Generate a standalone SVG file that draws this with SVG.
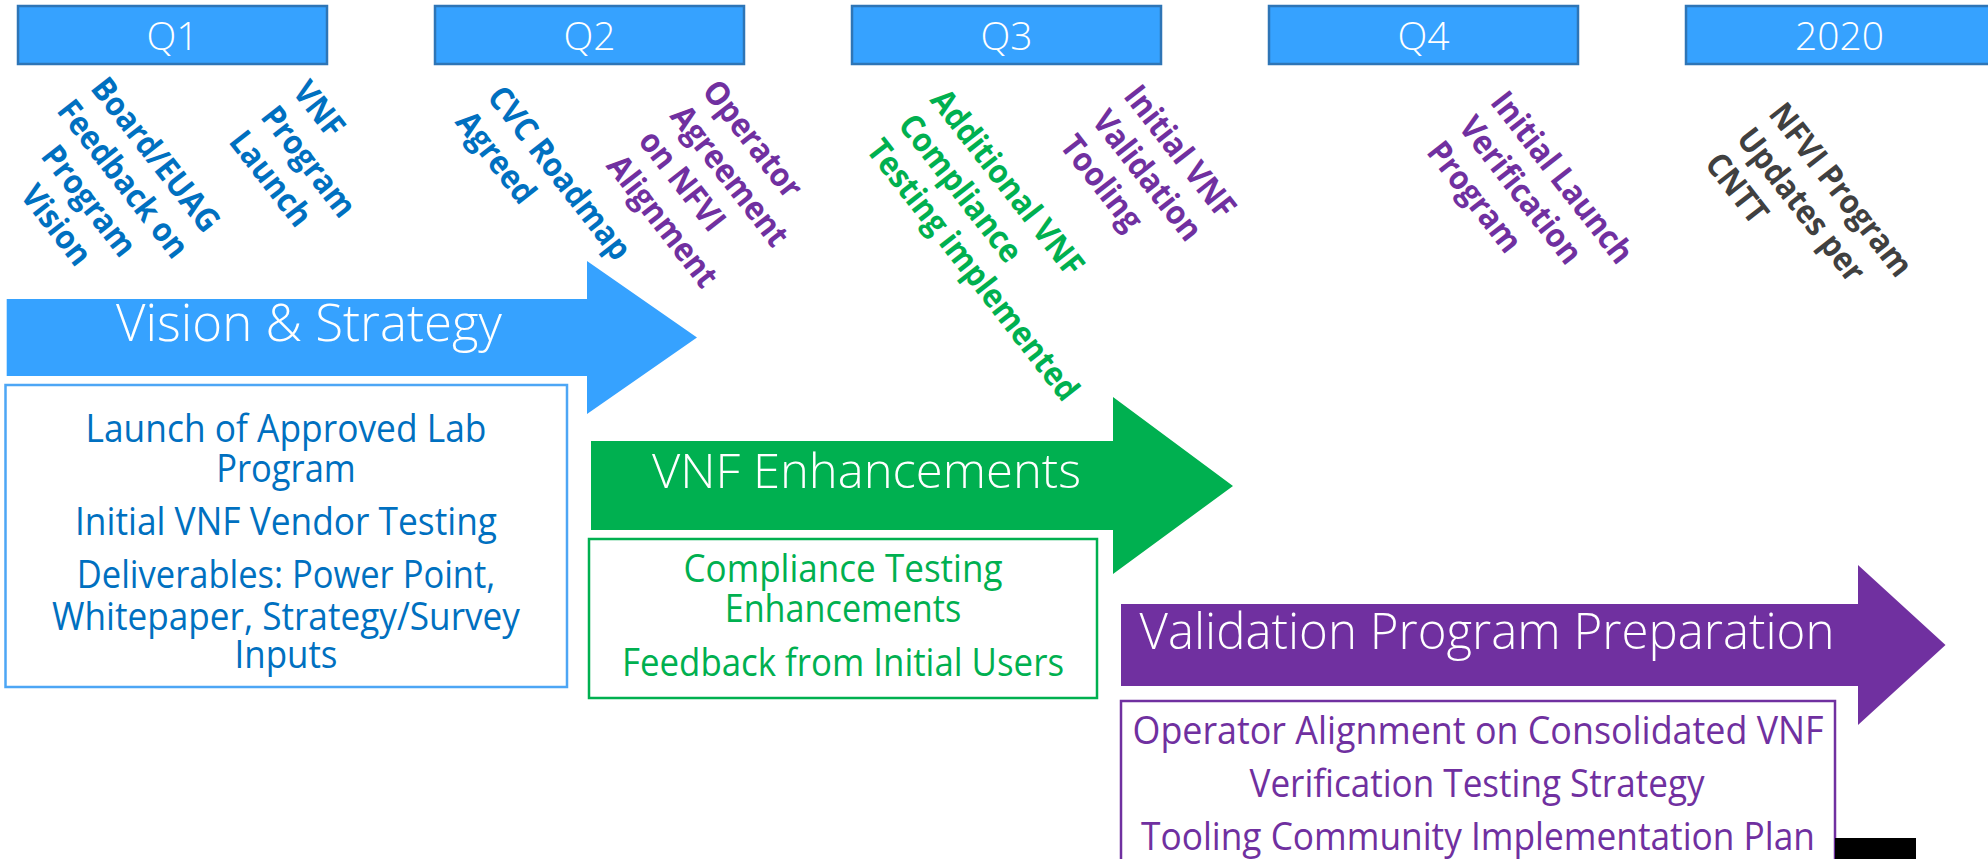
<svg xmlns="http://www.w3.org/2000/svg" width="1988" height="859" viewBox="0 0 1988 859">
<style>
.q{fill:#36A2FF;stroke:#2E75B6;stroke-width:2.5}
.qt{font-family:"Open Sans","Noto Sans",sans-serif;font-weight:300;font-size:39px;fill:#fff;text-anchor:middle}
.at{font-family:"Open Sans","Noto Sans",sans-serif;font-weight:300;fill:#fff;text-anchor:middle}
.bt{font-family:"Open Sans","Noto Sans",sans-serif;font-size:37.5px;text-anchor:middle}
.rt{font-family:"Open Sans","Noto Sans",sans-serif;font-weight:700;font-size:33px}
.blue{fill:#0070C0}.green{fill:#00B050}.purple{fill:#7030A0}.gray{fill:#404040}
</style>
<rect width="1988" height="859" fill="#fff"/>
<g id="quarters">
<g id="q1"><rect class="q" x="18" y="6" width="309" height="58"/><text class="qt" x="172.5" y="50">Q1</text></g>
<g id="q2"><rect class="q" x="435" y="6" width="309" height="58"/><text class="qt" x="589.5" y="50">Q2</text></g>
<g id="q3"><rect class="q" x="852" y="6" width="309" height="58"/><text class="qt" x="1006.5" y="50">Q3</text></g>
<g id="q4"><rect class="q" x="1269" y="6" width="309" height="58"/><text class="qt" x="1423.5" y="50">Q4</text></g>
<g id="y2020"><rect class="q" x="1686" y="6" width="309" height="58"/><text class="qt" x="1839.5" y="50">2020</text></g>
</g>
<g id="vision">
<polygon points="6.7,299 587,299 587,261 697,337.5 587,414 587,376 6.7,376" fill="#36A2FF"/>
<text class="at" x="309" y="341" font-size="51" textLength="386" lengthAdjust="spacingAndGlyphs">Vision &amp; Strategy</text>
</g>
<g id="vision-box">
<rect x="5.5" y="385" width="561.5" height="302" fill="#fff" stroke="#4DA6F5" stroke-width="2.5"/>
<text class="bt blue" x="286" y="441.7" textLength="401" lengthAdjust="spacingAndGlyphs">Launch of Approved Lab</text>
<text class="bt blue" x="286" y="481.7" textLength="139.5" lengthAdjust="spacingAndGlyphs">Program</text>
<text class="bt blue" x="286" y="535" textLength="422" lengthAdjust="spacingAndGlyphs">Initial VNF Vendor Testing</text>
<text class="bt blue" x="286" y="588" textLength="418.5" lengthAdjust="spacingAndGlyphs">Deliverables: Power Point,</text>
<text class="bt blue" x="286" y="630" textLength="468" lengthAdjust="spacingAndGlyphs">Whitepaper, Strategy/Survey</text>
<text class="bt blue" x="286" y="668" textLength="103" lengthAdjust="spacingAndGlyphs">Inputs</text>
</g>
<g id="vnf">
<polygon points="591,441 1113,441 1113,397 1233,486 1113,574 1113,530 591,530" fill="#00B050"/>
<text class="at" x="866.5" y="488" font-size="48.5" textLength="429" lengthAdjust="spacingAndGlyphs">VNF Enhancements</text>
</g>
<g id="vnf-box">
<rect x="589" y="539" width="508" height="159" fill="#fff" stroke="#00B050" stroke-width="2.5"/>
<text class="bt green" x="843" y="582" textLength="319" lengthAdjust="spacingAndGlyphs">Compliance Testing</text>
<text class="bt green" x="843" y="622" textLength="236.6" lengthAdjust="spacingAndGlyphs">Enhancements</text>
<text class="bt green" x="843" y="676" textLength="442" lengthAdjust="spacingAndGlyphs">Feedback from Initial Users</text>
</g>
<g id="validation">
<polygon points="1121,604 1858,604 1858,565 1945.5,645 1858,725 1858,686 1121,686" fill="#7030A0"/>
<text class="at" x="1487" y="649" font-size="50" textLength="695" lengthAdjust="spacingAndGlyphs">Validation Program Preparation</text>
</g>
<g id="validation-box">
<rect x="1121" y="701" width="714" height="162" fill="#fff" stroke="#7030A0" stroke-width="2.5"/>
<text class="bt purple" x="1478" y="744" textLength="691" lengthAdjust="spacingAndGlyphs">Operator Alignment on Consolidated VNF</text>
<text class="bt purple" x="1477" y="797" textLength="455" lengthAdjust="spacingAndGlyphs">Verification Testing Strategy</text>
<text class="bt purple" x="1478" y="850" textLength="674" lengthAdjust="spacingAndGlyphs">Tooling Community Implementation Plan</text>
</g>
<rect id="black-bar" x="1835" y="838" width="81" height="22" fill="#000"/>
<g id="milestones">
<g id="m1" class="rt blue" transform="translate(145.7,160.3) rotate(52) scale(0.92,1)" text-anchor="middle">
<text x="1.8" y="0">Board/EUAG</text><text x="0.8" y="40.5">Feedback on</text><text x="-3.3" y="81">Program</text><text x="-4.3" y="121.5">Vision</text>
</g>
<g id="m2" class="rt blue" transform="translate(291.5,92) rotate(52) scale(0.92,1)">
<text x="0" y="0">VNF</text><text x="0" y="40.5">Program</text><text x="0" y="81">Launch</text>
</g>
<g id="m3" class="rt blue" transform="translate(486.1,97.3) rotate(52) scale(0.92,1)">
<text x="0" y="0">CVC Roadmap</text><text x="0" y="40.5">Agreed</text>
</g>
<g id="m4" class="rt purple" transform="translate(701,91.3) rotate(52) scale(0.92,1)">
<text x="0" y="0">Operator</text><text x="0" y="40.5">Agreement</text><text x="0" y="81">on NFVI</text><text x="0" y="121.5">Alignment</text>
</g>
<g id="m5" class="rt green" transform="translate(929,100.3) rotate(52) scale(0.92,1)">
<text x="0" y="0">Additional VNF</text><text x="0" y="40.5">Compliance</text><text x="0" y="81">Testing implemented</text>
</g>
<g id="m6" class="rt purple" transform="translate(1122.6,96.2) rotate(52) scale(0.92,1)">
<text x="0" y="0">Initial VNF</text><text x="0" y="40.5">Validation</text><text x="0" y="81">Tooling</text>
</g>
<g id="m7" class="rt purple" transform="translate(1489.3,102.4) rotate(52) scale(0.92,1)">
<text x="0" y="0">Initial Launch</text><text x="0" y="40.5">Verification</text><text x="0" y="81">Program</text>
</g>
<g id="m8" class="rt gray" transform="translate(1767.5,114.1) rotate(52) scale(0.92,1)">
<text x="0" y="0">NFVI Program</text><text x="0" y="40.5">Updates per</text><text x="0" y="81">CNTT</text>
</g>
</g>
<g id="connectors"/>
</svg>
